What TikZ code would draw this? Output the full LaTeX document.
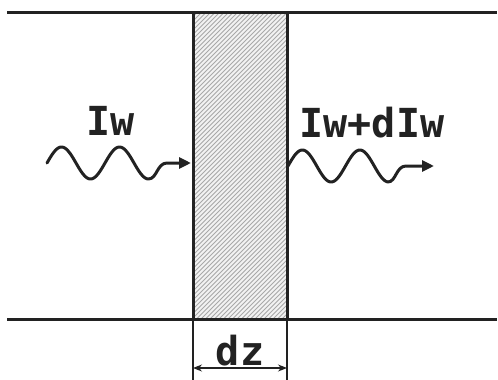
\documentclass[tikz,border=0pt]{standalone}
\usepackage{fontspec}
\setmonofont{DejaVu Sans Mono}
\usetikzlibrary{arrows.meta}
\definecolor{ink}{HTML}{222222}
\definecolor{hatch}{HTML}{A8A8A8}
\begin{document}
\begin{tikzpicture}[x=1pt,y=-1pt,
  wall/.style={draw=ink,line width=3pt},
  wave/.style={draw=ink,line width=3pt,line cap=round,line join=round,
    -{Stealth[length=12pt,width=11pt,inset=0pt]}},
  label/.style={text=ink,font=\ttfamily\bfseries\fontsize{40}{40}\selectfont,inner sep=0pt},
  dim/.style={draw=ink,line width=1.1pt}]
\useasboundingbox (0,0) rectangle (498,380);

% slab of thickness dz, with fine diagonal hatching
\coordinate (slabTL) at (193,12.5);
\coordinate (slabBR) at (287,319);
\fill[black!5] (slabTL) rectangle (slabBR);
\begin{scope}
  \clip (slabTL) rectangle (slabBR);
  \foreach \i in {0,4.5,...,420}
    \draw[hatch,line width=0.8pt] (193,12+\i) -- (293,-88+\i);
\end{scope}

% boundary lines of the medium
\draw[wall] (7,12.5) -- (497,12.5);
\draw[wall] (7,319) -- (497,319);
\draw[wall] (193,12.5) -- (193,319);
\draw[wall] (287,12.5) -- (287,319);

% dimension lines
\draw[dim] (193,319) -- (193,380);
\draw[dim] (287,319) -- (287,380);
\coordinate (dzL) at (193,368);
\coordinate (dzR) at (287,368);
\draw[dim,{Stealth[length=9pt,width=7pt]}-{Stealth[length=9pt,width=7pt]}] (dzL) -- (dzR);
\node[label] (dz) at (240,351) {dz};

% incident wave
\coordinate (inTip) at (191,163);
\draw[wave] plot[domain=47:148.5,samples=80,smooth] (\x,{163-16*sin(((\x-47)/58)*360)})
  .. controls (157,179) and (157,163) .. (167,163) -- (inTip);
\node[label] (Iw) at (111,121) {Iw};

% transmitted wave
\coordinate (outTip) at (434,166);
\draw[wave] plot[domain=288:388,samples=80,smooth] (\x,{166-16*sin(((\x-288)/57.5)*360)})
  .. controls (396,182) and (396,166) .. (406,166) -- (outTip);
\node[label] (IwdIw) at (372,123) {Iw+dIw};
\end{tikzpicture}
\end{document}
